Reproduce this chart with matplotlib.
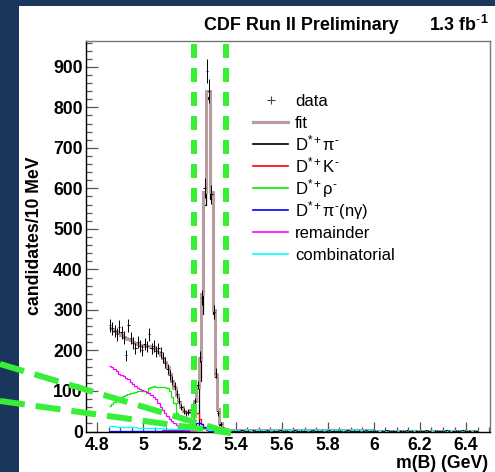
import matplotlib.pyplot as plt
import numpy as np
from matplotlib.lines import Line2D
from matplotlib.patches import Rectangle
from matplotlib.ticker import FuncFormatter, MultipleLocator

W, H = 495, 472

plt.rcParams["font.family"] = ["Liberation Sans", "DejaVu Sans"]
plt.rcParams["mathtext.fontset"] = "custom"
plt.rcParams["mathtext.rm"] = "Liberation Sans"
plt.rcParams["mathtext.it"] = "Liberation Sans:italic"
plt.rcParams["mathtext.bf"] = "Liberation Sans:bold"

# 10 MeV bins from 4.85 to 6.45 GeV
bin_edges = np.round(np.arange(4.85, 6.4501, 0.01), 3)

# candidates per bin
data = [262, 255, 248, 240, 258, 245, 232, 188, 262, 230,
        218, 205, 222, 212, 200, 215, 210, 240, 205, 212,
        198, 205, 195, 182, 170, 155, 140, 125, 112, 92,
        76, 60, 50, 45, 48, 52, 62, 75, 115, 185,
        330, 600, 890, 840, 585, 295, 145, 45, 18, 8,
        4, 3, 2, 1, 2, 2, 1, 3, 2, 1,
        2, 0, 3, 2, 1, 2, 1, 1, 3, 2,
        0, 2, 1, 2, 3, 1, 2, 2, 0, 1,
        3, 2, 1, 2, 2, 1, 0, 2, 3, 1,
        2, 1, 2, 0, 2, 3, 1, 2, 1, 2,
        2, 0, 1, 3, 2, 1, 2, 1, 2, 0,
        2, 3, 1, 1, 2, 2, 1, 0, 2, 1,
        3, 2, 1, 2, 1, 0, 2, 2, 1, 3,
        1, 2, 0, 2, 1, 2, 1, 3, 2, 1,
        0, 2, 2, 1, 2, 1, 3, 2, 0, 1,
        2, 2, 1, 3, 2, 1, 2, 0, 2, 1]

# total fit, low-mass part (above 5.40 it is the combinatorial alone)
fit_peak = [255, 252, 248, 245, 242, 238, 234, 230, 228, 225,
            222, 218, 216, 214, 212, 211, 210, 210, 208, 205,
            200, 196, 190, 182, 172, 158, 142, 125, 108, 90,
            74, 60, 51, 47, 48, 52, 60, 75, 110, 180,
            340, 590, 840, 840, 590, 300, 140, 55, 20, 9,
            5, 4, 4, 4, 4]

sig_dstpi = [0, 0, 0, 0, 0, 0, 0, 0, 0, 0,
             0, 0, 0, 0, 0, 0, 0, 0, 0, 0,
             0, 0, 0, 0, 0, 0, 0, 0, 0, 0,
             0, 0, 0, 0, 0, 0, 0, 3, 10, 125,
             290, 560, 820, 825, 575, 290, 135, 50, 16, 6,
             2, 1, 0, 0, 0]

dstk = [0, 0, 0, 0, 0, 0, 0, 0, 0, 1,
        1, 1, 1, 1, 1, 1, 1, 2, 2, 2,
        2, 2, 2, 3, 3, 3, 3, 3, 3, 3,
        4, 4, 4, 5, 6, 12, 25, 38, 45, 32,
        18, 8, 4, 2, 1]

dstrho = [62, 68, 74, 79, 83, 86, 88, 91, 93, 95,
          96, 97, 99, 100, 101, 99, 96, 108, 111, 112,
          111, 110, 111, 110, 109, 107, 100, 84, 70, 45,
          32, 28, 27, 26, 24, 12, 5, 2, 1]

dstpi_ngamma = [2, 2, 2, 2, 2, 2, 2, 2, 2, 2,
                2, 2, 2, 2, 2, 2, 2, 2, 2, 2,
                2, 2, 2, 2, 2, 2, 2, 2, 2, 2,
                2, 2, 2, 2, 2, 3, 6, 12, 20, 22,
                18, 10, 5, 2, 1]

remainder = [162, 158, 154, 150, 142, 140, 136, 133, 130, 122,
             117, 112, 108, 105, 103, 101, 98, 95, 91, 86,
             80, 70, 61, 54, 46, 38, 31, 25, 20, 15,
             12, 9, 6, 4, 3, 2, 1, 1]

combinatorial = [13.0, 12.7, 12.4, 12.1, 11.8, 11.5, 11.2, 10.9, 10.6, 10.4,
                 10.1, 9.9, 9.6, 9.4, 9.2, 9.0, 8.8, 8.6, 8.4, 8.2,
                 8.0, 7.8, 7.6, 7.5, 7.3, 7.1, 7.0, 6.8, 6.7, 6.5,
                 6.4, 6.3, 6.1, 6.0, 5.9, 5.8, 5.6, 5.5, 5.4, 5.3,
                 5.2, 5.1, 5.0, 4.9, 4.8, 4.7, 4.7, 4.6, 4.5, 4.4,
                 4.4, 4.3, 4.2, 4.2, 4.1, 4.0, 4.0, 3.9, 3.9, 3.8,
                 3.8, 3.7, 3.7, 3.6, 3.6, 3.5, 3.5, 3.5, 3.4, 3.4,
                 3.4, 3.3, 3.3, 3.3, 3.2, 3.2, 3.2, 3.1, 3.1, 3.1,
                 3.1, 3.0, 3.0, 3.0, 3.0, 2.9, 2.9, 2.9, 2.9, 2.9,
                 2.8, 2.8, 2.8, 2.8, 2.8, 2.7, 2.7, 2.7, 2.7, 2.7,
                 2.7, 2.6, 2.6, 2.6, 2.6, 2.6, 2.6, 2.5, 2.5, 2.5,
                 2.5, 2.5, 2.5, 2.5, 2.4, 2.4, 2.4, 2.4, 2.4, 2.4,
                 2.4, 2.4, 2.3, 2.3, 2.3, 2.3, 2.3, 2.3, 2.3, 2.3,
                 2.3, 2.2, 2.2, 2.2, 2.2, 2.2, 2.2, 2.2, 2.2, 2.2,
                 2.2, 2.1, 2.1, 2.1, 2.1, 2.1, 2.1, 2.1, 2.1, 2.1,
                 2.1, 2.1, 2.0, 2.0, 2.0, 2.0, 2.0, 2.0, 2.0, 2.0]

legend_labels = ["data", "fit", r"D$^{*+}$π$^{\text{-}}$", r"D$^{*+}$K$^{\text{-}}$",
                 r"D$^{*+}$ρ$^{\text{-}}$", r"D$^{*+}$π$^{\text{-}}$(nγ)", "remainder",
                 "combinatorial"]

NAVY = "#1b365d"
FIT = "#b89ca0"
GREEN_MARK = "#38ef38"
component_colors = ["#000000", "#ff0000", "#00ee00", "#0000ff", "#ff00ff", "#00ffff"]


def full(vals):
    """Pad a low-mass component with empty bins up to the full range."""
    out = np.zeros(len(bin_edges) - 1)
    out[: len(vals)] = vals
    return out


def fx(px):
    return px / W


def fy(py):
    return 1 - py / H


data = np.asarray(data, dtype=float)
comb = np.asarray(combinatorial)
fit = np.concatenate([fit_peak, comb[len(fit_peak):]])
components = [full(sig_dstpi), full(dstk), full(dstrho), full(dstpi_ngamma),
              full(remainder), comb]
centers = bin_edges[:-1] + 0.005

fig = plt.figure(figsize=(W / 100, H / 100), dpi=100, facecolor=NAVY)
fig.add_artist(Rectangle((fx(19), 0), 1 - fx(19), fy(6), transform=fig.transFigure,
                         facecolor="white", edgecolor="none", zorder=-10))

ax = fig.add_axes([fx(86.3), fy(431.5), fx(490) - fx(86.3), fy(40.5) - fy(431.5)])
ax.set_facecolor("white")

# signal sits under the fit, the other components on top of it
for k, (vals, col) in enumerate(zip(components, component_colors)):
    ax.stairs(vals, bin_edges, baseline=None, color=col, lw=0.9,
              zorder=1.5 if k == 0 else 3)
ax.stairs(fit, bin_edges, baseline=None, color=FIT, lw=2.2, zorder=2)
ax.errorbar(centers, data, yerr=np.sqrt(data), xerr=0.005, fmt="none",
            ecolor="black", elinewidth=0.7, capsize=0, zorder=4)

ax.set_xlim(4.752, 6.504)
ax.set_ylim(0, 965)
ax.xaxis.set_major_locator(MultipleLocator(0.2))
ax.xaxis.set_minor_locator(MultipleLocator(0.05))
ax.yaxis.set_major_locator(MultipleLocator(100))
ax.yaxis.set_minor_locator(MultipleLocator(20))
ax.xaxis.set_major_formatter(FuncFormatter(lambda v, p: f"{v:g}"))
ax.tick_params(axis="both", which="both", direction="in", color="#555555",
               labelsize=12.7, width=0.9)
ax.tick_params(axis="x", which="major", length=7.2, pad=4)
ax.tick_params(axis="x", which="minor", length=3.6)
ax.tick_params(axis="y", which="major", length=8.8, pad=2.5)
ax.tick_params(axis="y", which="minor", length=4.3)
for lab in ax.get_xticklabels() + ax.get_yticklabels():
    lab.set_fontweight("bold")
for side in ["left", "bottom"]:
    ax.spines[side].set_color("black")
    ax.spines[side].set_linewidth(1.0)
for side in ["top", "right"]:
    ax.spines[side].set_color("#777777")
    ax.spines[side].set_linewidth(1.0)

fig.text(fx(35), fy(236), "candidates/10 MeV", rotation=90, ha="center",
         va="center", fontsize=12.7, fontweight="bold")
fig.text(fx(488), fy(464), "m(B) (GeV)", ha="right", va="center",
         fontsize=12.7, fontweight="bold")
fig.text(fx(301), fy(25), "CDF Run II Preliminary", ha="center", va="center",
         fontsize=12.9, fontweight="bold")
fig.text(fx(489), fy(25), r"1.3 fb$^{\mathbf{\text{-}1}}$", ha="right", va="center",
         fontsize=12.9, fontweight="bold")

# hand-made legend, rows every 22 px
handle_styles = [None, (FIT, 2.3)] + [(c, 1.2) for c in component_colors]
for i, (label, style) in enumerate(zip(legend_labels, handle_styles)):
    yc = 100 + 22 * i
    if style is None:
        fig.add_artist(Line2D([fx(270.5)], [fy(yc)], marker="+", color="#444444",
                              markersize=6, markeredgewidth=0.8, linestyle="none",
                              transform=fig.transFigure))
    else:
        fig.add_artist(Line2D([fx(253), fx(288)], [fy(yc), fy(yc)], color=style[0],
                              lw=style[1], transform=fig.transFigure))
    fig.text(fx(295), fy(yc + 6), label, ha="left", va="baseline", fontsize=12)

# green dashed marks drawn over the slide
lw_mark = 6 * 0.72
for x in (193.7, 225.7):
    ln = Line2D([fx(x), fx(x)], [fy(44), fy(431)], color=GREEN_MARK, lw=lw_mark,
                transform=fig.transFigure, zorder=20)
    ln.set_dashes((14 * 0.72 / lw_mark, 10 * 0.72 / lw_mark))
    ln.set_dash_capstyle("butt")
    fig.add_artist(ln)
for y0 in (364, 401):
    ln = Line2D([fx(0), fx(231)], [fy(y0), fy(433)], color=GREEN_MARK, lw=lw_mark,
                transform=fig.transFigure, zorder=20)
    ln.set_dashes((25 * 0.72 / lw_mark, 11 * 0.72 / lw_mark))
    ln.set_dash_capstyle("butt")
    fig.add_artist(ln)

fig.savefig("out.png", dpi=100, facecolor=NAVY)
